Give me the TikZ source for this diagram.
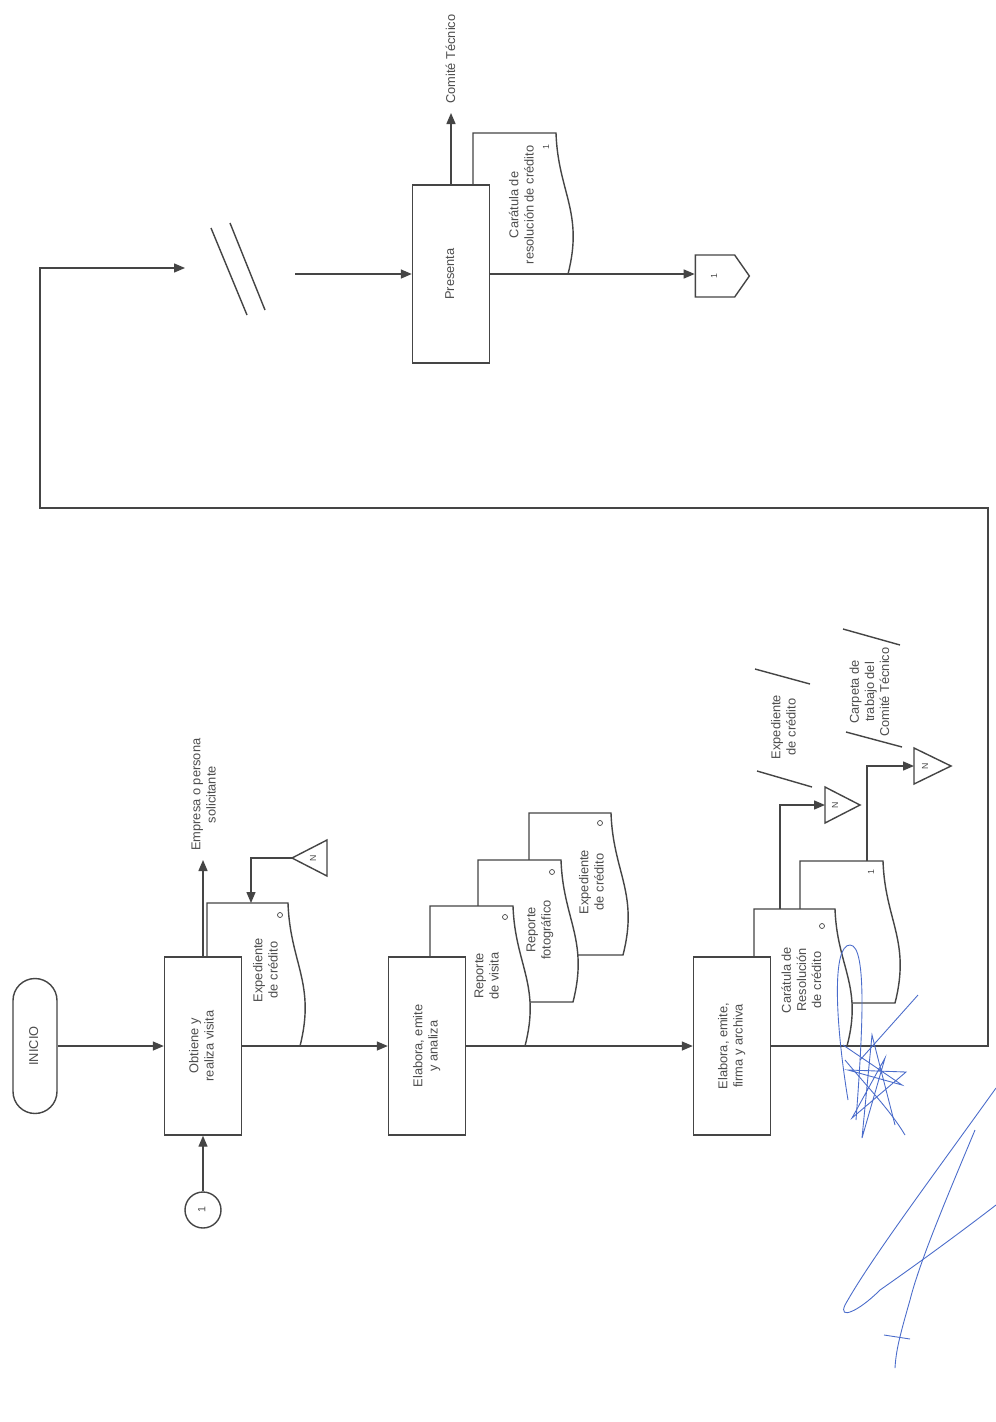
\documentclass[tikz,border=0pt]{standalone}
\usepackage{fontspec}
\setmainfont{Liberation Sans}
\usepackage{graphicx}
\usepackage{tikz}
\usetikzlibrary{arrows.meta,shapes.symbols}
\usepackage{xcolor}
\definecolor{trazo}{HTML}{454545}
\definecolor{letra}{HTML}{4D4D4D}
\definecolor{firma}{HTML}{4A6CCB}

% texto girado (se lee de abajo hacia arriba)
\newcommand{\vtxt}[1]{\rotatebox{90}{\begin{tabular}{@{}c@{}}#1\end{tabular}}}
% documento: izquierda, arriba, ancho, alto
\newcommand{\documento}[4]{%
  \draw[doc] (#1,#2) -- ++(#3,0) .. controls +(2,0.42*#4) and +(16,-0.44*#4) .. ++(12,#4) -- (#1,#2+#4) -- cycle;}

\begin{document}
\begin{tikzpicture}[x=0.2mm,y=-0.2mm,
  linea/.style={draw=trazo,line width=0.8pt},
  flecha/.style={linea,-{Triangle[length=2.2mm,width=1.8mm]}},
  proceso/.style={linea,fill=white,minimum width=15.4mm,minimum height=35.6mm,inner sep=0pt,
    font=\fontsize{7.3}{8.6}\selectfont,text=letra},
  terminal/.style={proceso,rounded corners=4.4mm,minimum width=8.8mm,minimum height=27mm},
  conector/.style={linea,circle,fill=white,minimum size=7.2mm,inner sep=0pt,
    font=\fontsize{6}{7}\selectfont,text=letra},
  pagina/.style={linea,signal,signal to=east,signal pointer angle=110,fill=white,
    minimum width=10.8mm,minimum height=8.4mm,inner sep=0pt,font=\fontsize{5}{6}\selectfont,text=letra},
  doc/.style={linea,fill=white},
  texto/.style={font=\fontsize{7.3}{8.6}\selectfont,text=letra,inner sep=0pt},
  num/.style={texto,font=\fontsize{5}{6}\selectfont},
  marca/.style={draw=trazo,circle,line width=0.4pt,inner sep=0pt,minimum size=1mm},
  firmas/.style={draw=firma,line width=0.5pt}]

  \fill[white] (0,0) rectangle (996,1422);
  \useasboundingbox (0,0) rectangle (996,1422);

  % documentos (de atras hacia adelante)
  \documento{207}{903}{81}{143}
  \documento{529}{813}{82}{142}
  \documento{478}{860}{83}{142}
  \documento{430}{906}{83}{140}
  \documento{800}{861}{83}{142}
  \documento{754}{909}{81}{137}
  \documento{473}{133}{83}{141}

  % actividades
  \node[terminal] (inicio) at (35,1046) {\vtxt{INICIO}};
  \node[proceso] (b1) at (203,1046) {\vtxt{Obtiene y\\realiza visita}};
  \node[proceso] (b2) at (427,1046) {\vtxt{Elabora, emite\\y analiza}};
  \node[proceso] (b3) at (732,1046) {\vtxt{Elabora, emite,\\firma y archiva}};
  \node[proceso] (pres) at (451,274) {\vtxt{Presenta}};
  \node[conector] (con1) at (203,1210) {\vtxt{1}};
  \node[pagina] (pag1) at (715,276) {\vtxt{1}};

  % textos de los documentos
  \node[texto] (t1) at (267,970) {\vtxt{Expediente\\de crédito}};
  \node[texto] (t2) at (488,976) {\vtxt{Reporte\\de visita}};
  \node[texto] (t3) at (540,930) {\vtxt{Reporte\\fotográfico}};
  \node[texto] (t4) at (593,882) {\vtxt{Expediente\\de crédito}};
  \node[texto] (t6) at (803,980) {\vtxt{Carátula de\\Resolución\\de crédito}};
  \node[texto] (t7) at (523,205) {\vtxt{Carátula de\\resolución de crédito}};
  \node[marca] (m1) at (280,915) {};
  \node[marca] (m2) at (505,917) {};
  \node[marca] (m3) at (552,872) {};
  \node[marca] (m4) at (600,823) {};
  \node[marca] (m6) at (822,926) {};
  \node[num] (n5) at (872,872) {\vtxt{1}};
  \node[num] (n7) at (547,147) {\vtxt{1}};

  % destinos
  \node[texto,anchor=south,inner sep=1.8mm] (solicitante) at (205,860)
    {\vtxt{Empresa o persona\\solicitante}};
  \node[texto,anchor=south,inner sep=1.8mm] (comite) at (452,113) {\vtxt{Comité Técnico}};
  \node[texto] (exped) at (785,727) {\vtxt{Expediente\\de crédito}};
  \node[texto] (carpeta) at (871,692) {\vtxt{Carpeta de\\trabajo del\\Comité Técnico}};
  \draw[linea] (755,669) -- (810,684);
  \draw[linea] (757,771) -- (812,787);
  \draw[linea] (843,629) -- (900,645);
  \draw[linea] (846,732) -- (902,747);

  % archivo N
  \draw[linea,fill=white] (292,858) -- (327,840) -- (327,876) -- cycle;
  \draw[linea,fill=white] (825,787) -- (860,805) -- (825,823) -- cycle;
  \draw[linea,fill=white] (914,748) -- (951,766) -- (914,784) -- cycle;
  \node[num] (a1) at (314,858) {\vtxt{N}};
  \node[num] (a2) at (836,805) {\vtxt{N}};
  \node[num] (a3) at (926,766) {\vtxt{N}};
  \coordinate (arch1) at (292,858);
  \coordinate (arch2) at (825,805);
  \coordinate (arch3) at (914,766);
  \coordinate (d1top) at (251,903);
  \coordinate (d6top) at (780,909);
  \coordinate (d5top) at (867,861);

  % flujo
  \draw[flecha] (inicio) -- (b1);
  \draw[flecha] (con1) -- (b1);
  \draw[flecha] (b1) -- (b2);
  \draw[flecha] (b2) -- (b3);
  \draw[flecha] (b1.north) -- (b1.north |- solicitante.south);
  \draw[flecha] (arch1) -| (d1top);
  \draw[flecha] (d6top) |- (arch2);
  \draw[flecha] (d5top) |- (arch3);

  % regreso y corte
  \coordinate (corte1) at (185,268);
  \coordinate (corte2) at (295,274);
  \draw[flecha] (b3.east) -| (988,508) -| (40,268) -- (corte1);
  \draw[linea] (211,228) -- (247,315);
  \draw[linea] (230,223) -- (265,310);
  \draw[flecha] (corte2) -- (pres);
  \draw[flecha] (pres.north) -- (pres.north |- comite.south);
  \draw[flecha] (pres.east) -- (pres.east -| pag1.west);

  % firma
  \draw[firmas] (996,1088) .. controls (930,1180) and (870,1260) .. (845,1305)
    .. controls (838,1320) and (858,1312) .. (880,1290) .. controls (930,1255) and (970,1225) .. (996,1205);
  \draw[firmas] (975,1130) .. controls (950,1190) and (920,1260) .. (910,1300)
    .. controls (900,1335) and (896,1350) .. (895,1368);
  \draw[firmas] (884,1335) -- (910,1339);
  \draw[firmas] (848,1100) .. controls (835,1020) and (832,945) .. (850,945)
    .. controls (868,945) and (862,1040) .. (856,1120);
  \draw[firmas] (843,1045) -- (902,1085) -- (848,1070) -- (906,1072) -- (852,1118)
    -- (885,1058) -- (862,1138) -- (872,1035) -- (895,1125);
  \draw[firmas] (918,995) -- (860,1060);
  \draw[firmas] (845,1060) .. controls (870,1090) and (890,1110) .. (905,1135);
\end{tikzpicture}
\end{document}
